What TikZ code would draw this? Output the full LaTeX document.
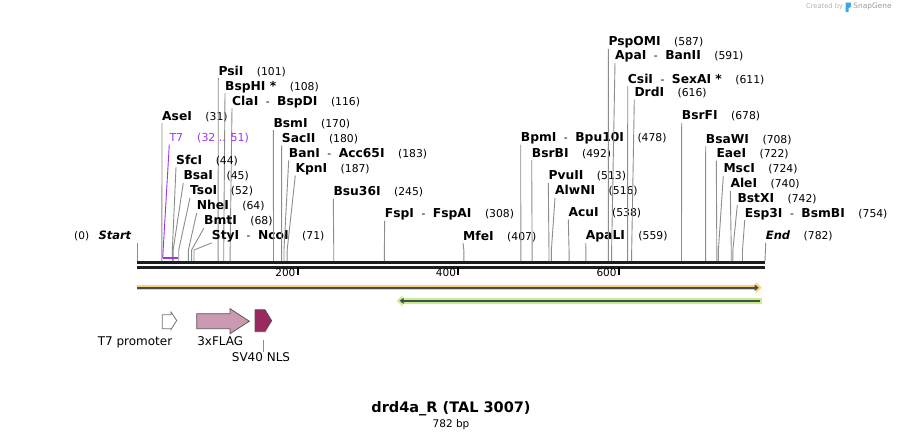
\documentclass[tikz,border=0pt]{standalone}
\usepackage{fontspec}
\setmainfont{DejaVu Sans}
\newfontfamily\enzfont{DejaVu Sans}
\newfontfamily\numfont{DejaVu Sans}
\usepackage{tikz}
\usetikzlibrary{arrows.meta,positioning,calc}

\definecolor{leadgray}{HTML}{8C8C8C}
\definecolor{seqblack}{HTML}{1E1E1E}
\definecolor{tsevenpurple}{HTML}{A033F0}
\definecolor{flagpink}{HTML}{CC99B3}
\definecolor{nlsred}{HTML}{99295E}
\definecolor{orangeband}{HTML}{FCCF7E}
\definecolor{greenband}{HTML}{C2F08F}
\definecolor{bandline}{HTML}{4A4A4A}
\definecolor{snapblue}{HTML}{3FA6E2}

\newcommand{\cutpos}[1]{\hspace{13.5pt}{\numfont\mdseries\upshape\fontsize{10.8}{12}\selectfont(#1)}}
\newcommand{\orsep}{\hspace{7.5pt}{\numfont\mdseries\fontsize{10.8}{12}\selectfont-}\hspace{7.5pt}}

\tikzset{
  enz/.style={anchor=west, inner sep=0pt, text height=9pt, text depth=3pt,
    font=\enzfont\fontsize{12.3}{14}\selectfont\bfseries},
  endlab/.style={enz, font=\enzfont\fontsize{11.5}{14}\selectfont\bfseries\itshape},
  numlab/.style={inner sep=0pt, text height=8pt, text depth=3pt,
    font=\numfont\fontsize{10.5}{12}\selectfont},
  featlab/.style={inner sep=0pt, text height=9pt, text depth=2.5pt,
    font=\numfont\fontsize{12}{14}\selectfont},
  leader/.style={draw=leadgray, line width=0.9pt},
  seqline/.style={draw=seqblack, line width=3pt},
  tick/.style={draw=black, line width=2pt},
  feat/.style={draw=black!65, line width=0.8pt, line join=miter},
}

\begin{document}
\begin{tikzpicture}[x=1pt,y=-1pt]
\useasboundingbox (0,0) rectangle (903,440);

% cut sites on the top strand, and the height where leaders bend
\coordinate (bk) at (0,250);
\foreach \b in {0,31,44,45,52,64,68,71,101,108,116,170,180,183,187,245,308,407,
  478,492,513,516,538,559,587,591,611,616,678,708,722,724,740,742,754,782}
  \coordinate (c\b) at ({137+0.80307*\b},261);

% sequence
\coordinate (sq-l) at (137,262.4);
\coordinate (sq-r) at (765,262.4);
\draw[seqline] (sq-l) -- (sq-r);
\draw[seqline] ([yshift=-4.8pt]sq-l) -- ([yshift=-4.8pt]sq-r);
\foreach \t/\tx in {200/297.6,400/458.2,600/618.8} {
  \draw[tick] (\tx,267) -- (\tx,275) coordinate (t\t);
  \node[numlab, anchor=east] (l\t) at ([xshift=-2pt,yshift=1pt]t\t) {\t};
}

% ends
\node[endlab] (start) at (98.3,236.7) {Start};
\node[numlab, left=9pt of start] (start-n) {(0)};
\draw[leader] (start.south -| c0) -- (c0);
\node[endlab] (seqend) at (765.7,236.7) {End\cutpos{782}};
\draw[leader] (seqend.south west) -- (c782);

% enzymes, left group
\node[enz] (asei) at (162,117) {AseI\cutpos{31}};
\draw[leader] (asei.south west) -- (bk -| c31) -- (c31);
\node[enz] (psii) at (218.3,72) {PsiI\cutpos{101}};
\draw[leader] (psii.south west) -- (bk -| c101) -- (c101);
\node[enz] (bsphi) at (225,87) {BspHI *\cutpos{108}};
\draw[leader] (bsphi.south west) -- (bk -| c108) -- (c108);
\node[enz] (clai) at (232,102) {ClaI\orsep BspDI\cutpos{116}};
\draw[leader] (clai.south west) -- (bk -| c116) -- (c116);
\node[enz] (sfci) at (176,161) {SfcI\cutpos{44}};
\draw[leader] (sfci.south west) -- (bk -| c44) -- (c44);
\node[enz] (bsai) at (183.3,176.7) {BsaI\cutpos{45}};
\draw[leader] (bsai.south west) -- (bk -| c45) -- (c45);
\node[enz] (tsoi) at (190,191.7) {TsoI\cutpos{52}};
\draw[leader] (tsoi.south west) -- (bk -| c52) -- (c52);
\node[enz] (nhei) at (196.7,206.7) {NheI\cutpos{64}};
\draw[leader] (nhei.south west) -- (bk -| c64) -- (c64);
\node[enz] (bmti) at (204,221.7) {BmtI\cutpos{68}};
\draw[leader] (bmti.south west) -- (bk -| c68) -- (c68);
\node[enz] (styi) at (211.7,236.7) {StyI\orsep NcoI\cutpos{71}};
\draw[leader] (styi.south west) -- (bk -| c71) -- (c71);
\node[enz] (bsmi) at (273.3,124) {BsmI\cutpos{170}};
\draw[leader] (bsmi.south west) -- (bk -| c170) -- (c170);
\node[enz] (sacii) at (281.7,139) {SacII\cutpos{180}};
\draw[leader] (sacii.south west) -- (bk -| c180) -- (c180);
\node[enz] (bani) at (288.7,154.3) {BanI\orsep Acc65I\cutpos{183}};
\draw[leader] (bani.south west) -- (bk -| c183) -- (c183);
\node[enz] (kpni) at (295.3,169.3) {KpnI\cutpos{187}};
\draw[leader] (kpni.south west) -- (bk -| c187) -- (c187);
\node[enz] (bsu36i) at (333.3,192.3) {Bsu36I\cutpos{245}};
\draw[leader] (bsu36i.south west) -- (bk -| c245) -- (c245);
\node[enz] (fspi) at (384.7,214.3) {FspI\orsep FspAI\cutpos{308}};
\draw[leader] (fspi.south west) -- (bk -| c308) -- (c308);
\node[enz] (mfei) at (463,237) {MfeI\cutpos{407}};
\draw[leader] (mfei.south west) -- (bk -| c407) -- (c407);

% enzymes, right group
\node[enz] (bpmi) at (520.7,138.3) {BpmI\orsep Bpu10I\cutpos{478}};
\draw[leader] (bpmi.south west) -- (bk -| c478) -- (c478);
\node[enz] (bsrbi) at (531.7,154) {BsrBI\cutpos{492}};
\draw[leader] (bsrbi.south west) -- (bk -| c492) -- (c492);
\node[enz] (pvuii) at (548.3,176.7) {PvuII\cutpos{513}};
\draw[leader] (pvuii.south west) -- (bk -| c513) -- (c513);
\node[enz] (alwni) at (555,191.7) {AlwNI\cutpos{516}};
\draw[leader] (alwni.south west) -- (bk -| c516) -- (c516);
\node[enz] (acui) at (568.3,213.3) {AcuI\cutpos{538}};
\draw[leader] (acui.south west) -- (bk -| c538) -- (c538);
\node[enz] (apali) at (585.7,236.7) {ApaLI\cutpos{559}};
\draw[leader] (apali.south west) -- (bk -| c559) -- (c559);
\node[enz] (pspomi) at (608.3,42.7) {PspOMI\cutpos{587}};
\draw[leader] (pspomi.south west) -- (bk -| c587) -- (c587);
\node[enz] (apai) at (615,56.7) {ApaI\orsep BanII\cutpos{591}};
\draw[leader] (apai.south west) -- (bk -| c591) -- (c591);
\node[enz] (csii) at (627.7,80) {CsiI\orsep SexAI *\cutpos{611}};
\draw[leader] (csii.south west) -- (bk -| c611) -- (c611);
\node[enz] (drdi) at (634.3,93.3) {DrdI\cutpos{616}};
\draw[leader] (drdi.south west) -- (bk -| c616) -- (c616);
\node[enz] (bsrfi) at (681.7,116.7) {BsrFI\cutpos{678}};
\draw[leader] (bsrfi.south west) -- (bk -| c678) -- (c678);
\node[enz] (bsawi) at (705.7,140) {BsaWI\cutpos{708}};
\draw[leader] (bsawi.south west) -- (bk -| c708) -- (c708);
\node[enz] (eaei) at (716.3,154.3) {EaeI\cutpos{722}};
\draw[leader] (eaei.south west) -- (bk -| c722) -- (c722);
\node[enz] (msci) at (723.3,169.7) {MscI\cutpos{724}};
\draw[leader] (msci.south west) -- (bk -| c724) -- (c724);
\node[enz] (alei) at (730.3,184.7) {AleI\cutpos{740}};
\draw[leader] (alei.south west) -- (bk -| c740) -- (c740);
\node[enz] (bstxi) at (737.3,199) {BstXI\cutpos{742}};
\draw[leader] (bstxi.south west) -- (bk -| c742) -- (c742);
\node[enz] (esp3i) at (744.7,214) {Esp3I\orsep BsmBI\cutpos{754}};
\draw[leader] (esp3i.south west) -- (bk -| c754) -- (c754);

% T7 primer site
\coordinate (t7-a) at (162.7,258);
\coordinate (t7-b) at (178,258);
\node[enz, font=\numfont\fontsize{11}{13}\selectfont, text=tsevenpurple]
  (t7) at (169.3,138.3) {T7\hspace{14pt}{\fontsize{11}{13}\selectfont(32 .. 51)}};
\draw[tsevenpurple, line width=2pt] (t7-a) -- (t7-b);
\draw[tsevenpurple, line width=0.9pt] (t7.south west) -- (t7-a);

% features along the sequence
\coordinate (ob-l) at (137,287.7);
\coordinate (ob-r) at (761.7,287.7);
\draw[orangeband, line width=5.5pt, -{Triangle[length=6pt,width=11pt]}] (ob-l) -- (ob-r);
\draw[bandline, line width=1.8pt, -{Triangle[length=4pt,width=6pt]}] (ob-l) -- ([xshift=-3pt]ob-r);
\coordinate (gb-r) at (761.7,300.8);
\coordinate (gb-l) at (396.7,300.8);
\draw[greenband, line width=5.5pt, -{Triangle[length=6pt,width=11pt]}] (gb-r) -- (gb-l);
\draw[bandline, line width=1.8pt, -{Triangle[length=4pt,width=6pt]}] ([xshift=-1.5pt]gb-r) -- ([xshift=3pt]gb-l);

\draw[feat, draw=black!55, fill=white] (162.3,314.7) -- (171,314.7) -- (171,312)
  -- (176.7,320.5) -- (171,329.5) -- (171,328.7) -- (162.3,328.7) -- cycle;
\draw[feat, fill=flagpink] (196.7,313.7) -- (230,313.7) -- (230,308.7)
  -- (249.3,321.2) -- (230,333.7) -- (230,328.7) -- (196.7,328.7) -- cycle;
\draw[feat, fill=nlsred] (255,309.7) -- (265,309.7) -- (271.7,320.7)
  -- (265,331.7) -- (255,331.7) -- cycle;
\node[featlab] (t7p-lab) at (135,342.5) {T7 promoter};
\node[featlab] (flag-lab) at (220.3,342.5) {3xFLAG};
\node[featlab] (nls-lab) at (261,358.3) {SV40 NLS};
\coordinate (nls-foot) at (263.3,340);
\draw[leader] (nls-foot) -- (nls-foot |- nls-lab.north);

% title
\node[font=\enzfont\fontsize{14.5}{17}\selectfont\bfseries, inner sep=0pt] (title) at (451,409) {drd4a\_R (TAL 3007)};
\node[numlab] (size) at (451,424.5) {782 bp};

% watermark
\node[font=\numfont\fontsize{6.7}{8}\selectfont, text=black!30, anchor=west, inner sep=0pt] (made) at (806,7) {Created by};
\fill[snapblue] (845.5,2.5) rectangle (848.5,12) (848.5,2.5) -- (851,2.5) -- (851,7) -- (848.5,8) -- cycle;
\node[font=\numfont\fontsize{7.4}{9}\selectfont, text=black!40, anchor=west, inner sep=0pt, right=10pt of made] (snap) {SnapGene};
\end{tikzpicture}
\end{document}
